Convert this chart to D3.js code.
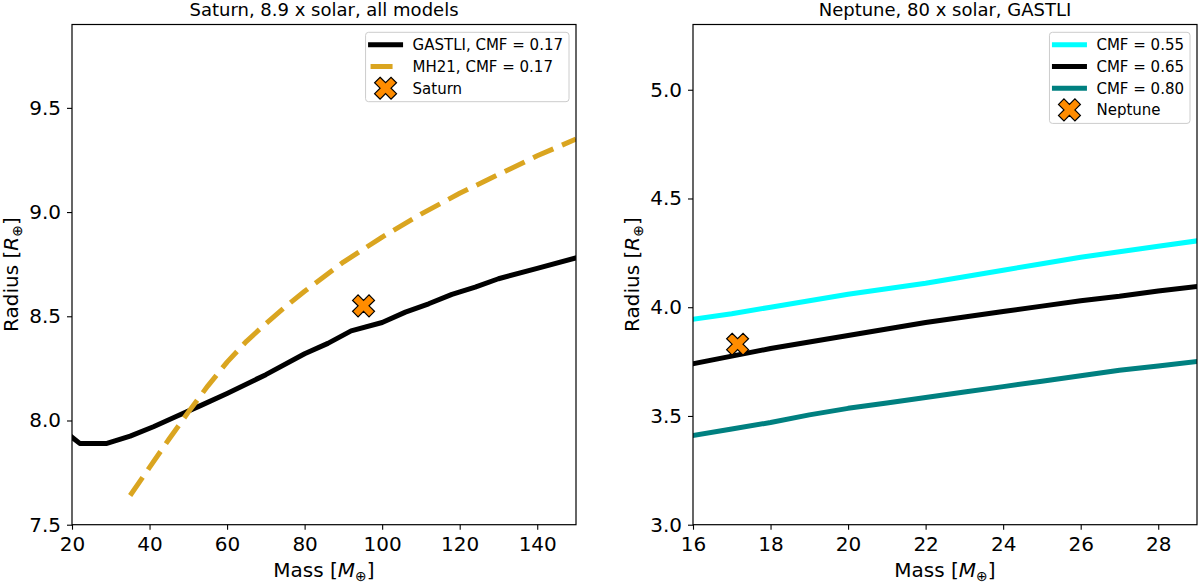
<!DOCTYPE html>
<html lang="en">
<head>
<meta charset="UTF-8" />
<title>Mass-radius curves: Saturn and Neptune</title>
<script src="https://d3js.org/d3.v7.min.js"></script>
<style>
  body { margin: 0; background: #fff; }
  svg { display: block; font-family: "DejaVu Sans", sans-serif; }
  .axis path, .axis line { stroke: #000; stroke-width: 1.1; }
  .axis text { font-size: 20px; fill: #000; font-family: "DejaVu Sans", sans-serif; }
</style>
</head>
<body>
<svg id="chart" width="1200" height="583"></svg>
<script>
// --- Saturn panel data ---
const gastliMass   = [20, 22, 25, 29, 35, 41, 47, 53, 60, 70, 80, 86, 92, 100, 106, 112, 118, 124, 130, 140, 150];
const gastliRadius = [7.92, 7.89, 7.89, 7.89, 7.925, 7.97, 8.02, 8.07, 8.13, 8.22, 8.32, 8.37, 8.43, 8.47, 8.52, 8.56, 8.605, 8.64, 8.68, 8.73, 8.78];
const mh21Mass     = [35, 40, 45, 50, 55, 60, 65, 70, 75, 80, 90, 100, 110, 120, 130, 140, 150];
const mh21Radius   = [7.64, 7.775, 7.91, 8.04, 8.165, 8.28, 8.38, 8.465, 8.545, 8.62, 8.76, 8.88, 8.99, 9.09, 9.18, 9.27, 9.35];
const saturnPoint  = [95.2, 8.55];
const saturnXTicks = [20, 40, 60, 80, 100, 120, 140];
const saturnYTicks = [7.5, 8.0, 8.5, 9.0, 9.5];

// --- Neptune panel data ---
const neptuneMass = [16, 17, 18, 19, 20, 21, 22, 23, 24, 25, 26, 27, 28, 29];
const cmf055 = [3.945, 3.97, 4.0, 4.03, 4.06, 4.085, 4.11, 4.14, 4.17, 4.20, 4.23, 4.255, 4.28, 4.305];
const cmf065 = [3.74, 3.775, 3.81, 3.84, 3.87, 3.90, 3.93, 3.955, 3.98, 4.005, 4.03, 4.05, 4.075, 4.095];
const cmf080 = [3.41, 3.44, 3.47, 3.505, 3.535, 3.56, 3.585, 3.61, 3.635, 3.66, 3.685, 3.71, 3.73, 3.75];
const neptunePoint  = [17.15, 3.83];
const neptuneXTicks = [16, 18, 20, 22, 24, 26, 28];
const neptuneYTicks = [3.0, 3.5, 4.0, 4.5, 5.0];

const svg = d3.select("#chart");
const plotW = 504, plotTop = 24.5, plotBottom = 524.7;
const xMarker = d3.symbol().type(d3.symbolCross).size(300);

// subscript earth symbol label, like matplotlib mathtext
function mathLabel(sel, word, sym) {
  sel.append("tspan").text(word + " [");
  sel.append("tspan").attr("font-style", "italic").text(sym);
  sel.append("tspan").attr("font-size", "70%").attr("dy", "0.28em").text("⊕");
  sel.append("tspan").attr("dy", "-0.2em").text("]");
}

function drawPanel(cfg) {
  const g = svg.append("g");
  const x = d3.scaleLinear().domain(cfg.xDomain).range([cfg.left, cfg.left + plotW]);
  const y = d3.scaleLinear().domain(cfg.yDomain).range([plotBottom, plotTop]);

  const clipId = "clip-" + cfg.id;
  svg.append("defs").append("clipPath").attr("id", clipId)
    .append("rect")
    .attr("x", cfg.left).attr("y", plotTop)
    .attr("width", plotW).attr("height", plotBottom - plotTop);

  // axes
  const xAxis = g.append("g").attr("class", "axis")
    .attr("transform", `translate(0,${plotBottom})`)
    .call(d3.axisBottom(x).tickValues(cfg.xTicks).tickSize(5).tickSizeOuter(0)
      .tickPadding(7).tickFormat(d3.format("d")));
  const yAxis = g.append("g").attr("class", "axis")
    .attr("transform", `translate(${cfg.left},0)`)
    .call(d3.axisLeft(y).tickValues(cfg.yTicks).tickSize(5).tickSizeOuter(0)
      .tickPadding(6).tickFormat(d3.format(".1f")));
  xAxis.select(".domain").remove();
  yAxis.select(".domain").remove();

  // curves
  const line = d3.line().x(d => x(d[0])).y(d => y(d[1]));
  const plot = g.append("g").attr("clip-path", `url(#${clipId})`);
  cfg.series.forEach(s => {
    plot.append("path")
      .datum(d3.zip(s.x, s.y))
      .attr("d", line)
      .attr("fill", "none")
      .attr("stroke", s.color)
      .attr("stroke-width", 5)
      .attr("stroke-linejoin", "round")
      .attr("stroke-linecap", s.dash ? "butt" : "square")
      .attr("stroke-dasharray", s.dash || null);
  });

  // planet marker
  plot.append("path")
    .attr("d", xMarker)
    .attr("transform", `translate(${x(cfg.point[0])},${y(cfg.point[1])}) rotate(45)`)
    .attr("fill", "darkorange")
    .attr("stroke", "#000")
    .attr("stroke-width", 1.2);

  // frame
  g.append("rect")
    .attr("x", cfg.left).attr("y", plotTop)
    .attr("width", plotW).attr("height", plotBottom - plotTop)
    .attr("fill", "none").attr("stroke", "#000").attr("stroke-width", 1.2);

  // title and axis labels
  g.append("text")
    .attr("x", cfg.left + plotW / 2).attr("y", 16)
    .attr("text-anchor", "middle").attr("font-size", 18)
    .text(cfg.title);
  g.append("text")
    .attr("x", cfg.left + plotW / 2).attr("y", 577)
    .attr("text-anchor", "middle").attr("font-size", 20)
    .call(mathLabel, "Mass", "M");
  g.append("text")
    .attr("transform", `translate(${cfg.left - 54},${(plotTop + plotBottom) / 2}) rotate(-90)`)
    .attr("text-anchor", "middle").attr("font-size", 20)
    .call(mathLabel, "Radius", "R");

  // legend (upper right)
  const entries = cfg.series.map(s => ({ label: s.label, color: s.color, dash: s.dash }))
    .concat([{ label: cfg.pointLabel, marker: true }]);
  const rowH = 21.7, boxTop = 32.3;
  const leg = g.append("g");
  const box = leg.append("rect")
    .attr("y", boxTop).attr("height", 12.5 + rowH * (entries.length - 1) + 13.5)
    .attr("rx", 3).attr("fill", "#fff").attr("fill-opacity", 0.8)
    .attr("stroke", "#ccc").attr("stroke-width", 1);
  const texts = leg.selectAll("text.lbl").data(entries).join("text")
    .attr("class", "lbl")
    .attr("font-size", 15)
    .attr("y", (d, i) => boxTop + 12.5 + i * rowH + 5.5)
    .text(d => d.label);
  let maxLen = 0;
  texts.each(function () { maxLen = Math.max(maxLen, this.getComputedTextLength()); });
  const boxW = 47 + maxLen + 6;
  const L = cfg.left + plotW - 7 - boxW;
  box.attr("x", L).attr("width", boxW);
  texts.attr("x", L + 47);
  entries.forEach((d, i) => {
    const cy = boxTop + 12.5 + i * rowH;
    if (d.marker) {
      leg.append("path")
        .attr("d", xMarker)
        .attr("transform", `translate(${L + 20},${cy}) rotate(45)`)
        .attr("fill", "darkorange").attr("stroke", "#000").attr("stroke-width", 1.2);
    } else {
      leg.append("line")
        .attr("x1", L + 5).attr("x2", L + 35).attr("y1", cy).attr("y2", cy)
        .attr("stroke", d.color).attr("stroke-width", 5)
        .attr("stroke-linecap", d.dash ? "butt" : "square")
        .attr("stroke-dasharray", d.dash || null);
    }
  });
}

drawPanel({
  id: "saturn", left: 72,
  xDomain: [20, 150], yDomain: [7.5, 9.9],
  xTicks: saturnXTicks, yTicks: saturnYTicks,
  title: "Saturn, 8.9 x solar, all models",
  series: [
    { x: gastliMass, y: gastliRadius, color: "#000", label: "GASTLI, CMF = 0.17" },
    { x: mh21Mass, y: mh21Radius, color: "#DAA520", dash: "22,9.5", label: "MH21, CMF = 0.17" }
  ],
  point: saturnPoint, pointLabel: "Saturn"
});

drawPanel({
  id: "neptune", left: 693,
  xDomain: [16, 29], yDomain: [3.0, 5.3],
  xTicks: neptuneXTicks, yTicks: neptuneYTicks,
  title: "Neptune, 80 x solar, GASTLI",
  series: [
    { x: neptuneMass, y: cmf055, color: "#00FFFF", label: "CMF = 0.55" },
    { x: neptuneMass, y: cmf065, color: "#000", label: "CMF = 0.65" },
    { x: neptuneMass, y: cmf080, color: "#008080", label: "CMF = 0.80" }
  ],
  point: neptunePoint, pointLabel: "Neptune"
});
</script>
</body>
</html>
